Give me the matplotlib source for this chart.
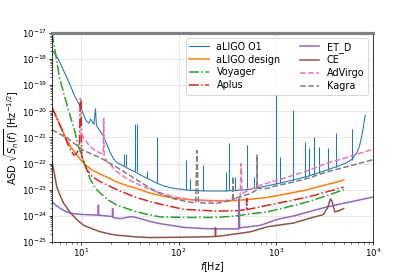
import numpy as np
import matplotlib
matplotlib.use("Agg")
from matplotlib import pyplot

# values are log10 of the ASD in Hz^-1/2
o1_f = [5, 5.5, 6, 6.5, 7, 7.5, 8, 8.5, 9, 9.5, 10, 10.5, 11, 11.5, 12, 12.5, 13,
        13.5, 14, 14.3, 14.6, 15.8, 17, 18.5, 20, 21, 23, 26, 30, 35, 40, 50, 60,
        70, 90, 130, 200, 300, 500, 700, 1000, 1540, 2200, 3330, 4500, 5250, 6000,
        6800, 7300, 7800, 8300]
o1_asd = [-17.65, -17.85, -18.1, -18.4, -18.65, -18.9, -19.15, -19.4, -19.55, -19.75,
          -19.9, -20.1, -20.3, -20.4, -20.45, -20.3, -20.4, -20.5, -19.9, -20.5, -20.6,
          -20.78, -20.97, -21.3, -21.6, -21.75, -21.95, -22.05, -22.18, -22.3, -22.42,
          -22.6, -22.75, -22.85, -22.95, -23.02, -23.05, -23.05, -23.0, -22.9, -22.78,
          -22.62, -22.47, -22.25, -22.08, -21.98, -21.85, -21.6, -21.3, -20.8, -20.15]
# narrow lines in the O1 spectrum: frequency, foot, tip
o1_line_f = [27.5, 28.5, 36, 37, 37.5, 47, 60, 120, 130, 180, 305, 330, 380, 505, 600,
             1000, 1100, 1500, 2000, 2200, 2450, 2800, 3450, 4200, 6100]
o1_line_lo = [-22.1, -22.1, -22.3, -22.3, -22.3, -22.55, -22.75, -23.0, -23.0, -23.05,
              -23.05, -23.0, -23.0, -22.95, -22.9, -22.78, -22.75, -22.65, -22.55,
              -22.47, -22.42, -22.36, -22.24, -22.12, -21.85]
o1_line_hi = [-21.65, -21.65, -20.5, -20.5, -20.6, -22.3, -20.97, -21.87, -22.6, -22.06,
              -22.31, -21.23, -22.5, -21.29, -22.5, -19.3, -21.74, -19.95, -21.16, -21.4,
              -21.0, -21.35, -21.4, -20.83, -20.68]

design_f = [5, 6, 7, 8, 9, 10, 11, 13, 16, 20, 23, 30, 35, 50, 65, 90, 120, 170, 250,
            350, 500, 800, 1200, 2000, 3000, 4000, 5000]
design_asd = [-19.85, -20.5, -21.05, -21.42, -21.66, -21.88, -22.05, -22.25, -22.42, -22.58,
              -22.7, -22.85, -22.92, -23.12, -23.22, -23.32, -23.37, -23.4, -23.42, -23.42,
              -23.38, -23.3, -23.18, -23.02, -22.85, -22.73, -22.63]

voyager_f = [5, 5.5, 6, 6.6, 7.2, 7.8, 8.5, 9.1, 10, 10.6, 11.5, 12.4, 14, 15.8, 19,
             23.4, 35, 51.5, 65, 113, 250, 400, 550, 815, 1200, 2200, 3500, 5000]
voyager_asd = [-17.0, -17.9, -18.75, -19.3, -19.8, -20.25, -20.7, -21.2, -21.65, -21.95,
               -22.3, -22.6, -22.95, -23.14, -23.4, -23.59, -23.82, -23.97, -24.04, -24.06,
               -24.06, -24.0, -23.92, -23.85, -23.7, -23.45, -23.2, -23.0]

aplus_f = [5, 6, 7, 7.5, 8, 8.4, 8.8, 9.3, 9.6, 9.75, 9.95, 10.1, 10.6, 11.5, 13, 15.8,
           23.4, 35, 51.5, 65, 113, 250, 400, 500, 503, 507, 815, 2200, 5000]
aplus_asd = [-19.85, -20.5, -21.1, -21.37, -21.56, -21.67, -21.65, -21.5, -21.35, -19.5,
             -19.5, -21.7, -21.9, -22.25, -22.5, -22.7, -23.0, -23.27, -23.46, -23.55,
             -23.75, -23.82, -23.8, -23.76, -23.33, -23.76, -23.6, -23.27, -22.9]

etd_f = [5, 5.5, 6.1, 7, 7.8, 9, 10.6, 14.9, 15, 15.1, 20.9, 21, 21.1, 24, 26.4, 30, 33.4,
         40, 51.5, 65, 113, 168, 250, 415, 420, 425, 700, 1000, 1540, 3330, 10000]
etd_asd = [-23.46, -23.6, -23.72, -23.84, -23.9, -23.93, -23.95, -23.97, -23.59, -23.97,
           -24.03, -23.72, -24.06, -24.1, -24.1, -24.05, -24.03, -24.1, -24.22, -24.3,
           -24.44, -24.48, -24.5, -24.5, -23.35, -24.46, -24.36, -24.15, -24.0, -23.66,
           -23.28]

ce_f = [5, 5.3, 5.6, 6.1, 6.6, 7.2, 7.8, 9.1, 10.6, 13, 15.8, 20, 23.4, 35, 50, 100, 200,
        238, 240, 242, 300, 550, 815, 1540, 2200, 3080, 3400, 3650, 3800, 4050, 4500, 5000]
ce_asd = [-21.93, -22.4, -22.89, -23.25, -23.52, -23.72, -23.9, -24.16, -24.36, -24.5,
          -24.61, -24.7, -24.74, -24.8, -24.83, -24.82, -24.8, -24.79, -24.45, -24.79,
          -24.75, -24.61, -24.42, -24.27, -24.1, -23.95, -23.7, -23.35, -23.45, -23.85,
          -23.8, -23.72]

virgo_f = [10, 11, 12.4, 14, 15.8, 16.8, 17, 17.2, 18.5, 20, 23, 27.4, 33, 40, 50, 60,
           90, 133, 230, 300, 430, 440, 450, 550, 700, 1000, 1540, 2200, 3330, 5000, 10000]
virgo_asd = [-20.85, -21.1, -21.36, -21.5, -21.6, -21.62, -20.27, -21.7, -21.93, -22.05,
             -22.3, -22.5, -22.68, -22.82, -22.97, -23.08, -23.27, -23.38, -23.45, -23.42,
             -23.3, -22.0, -23.15, -22.98, -22.82, -22.65, -22.44, -22.25, -21.99, -21.8,
             -21.45]

kagra_f = [5, 7.2, 10.6, 15.8, 23.4, 34.7, 51.5, 65, 90, 133, 150, 155, 160, 250, 360,
           362, 365, 550, 640, 642, 645, 815, 1000, 1540, 2200, 3330, 5000, 10000]
kagra_asd = [-20.7, -21.03, -21.5, -21.78, -22.15, -22.55, -22.95, -23.15, -23.35, -23.48,
             -23.5, -21.5, -23.5, -23.52, -23.4, -22.5, -23.35, -23.14, -23.0, -21.67,
             -22.95, -22.95, -22.85, -22.7, -22.55, -22.32, -22.15, -21.85]


def asd(v):
    return 10.0 ** np.array(v)


pyplot.rcParams['font.size'] = 10
pyplot.rcParams['xtick.labelsize'] = 9
pyplot.rcParams['ytick.labelsize'] = 9
pyplot.rcParams['xtick.major.size'] = 3
pyplot.rcParams['ytick.major.size'] = 3
pyplot.rcParams['xtick.minor.size'] = 2
pyplot.rcParams['ytick.minor.size'] = 2
pyplot.rcParams['xtick.major.pad'] = 2
pyplot.rcParams['ytick.major.pad'] = 2

dpi = 69.25
fig = pyplot.figure(figsize=(415 / dpi, 277 / dpi), dpi=dpi)
fig.subplots_adjust(left=0.1253, right=0.8988, bottom=0.1264, top=0.8809)
ax = fig.add_subplot(111)

ax.loglog(o1_f, asd(o1_asd), color='C0', lw=1.1, label='aLIGO O1')
ax.vlines(o1_line_f, asd(o1_line_lo), asd(o1_line_hi), color='C0', lw=1.1)
ax.loglog(design_f, asd(design_asd), color='C1', lw=1.6, label='aLIGO design')
ax.loglog(voyager_f, asd(voyager_asd), color='C2', lw=1.6, ls='-.', label='Voyager')
ax.loglog(aplus_f, asd(aplus_asd), color='C3', lw=1.6, ls='-.', label='Aplus')
ax.loglog(etd_f, asd(etd_asd), color='C4', lw=1.6, label='ET_D')
ax.loglog(ce_f, asd(ce_asd), color='C5', lw=1.6, label='CE')
ax.loglog(virgo_f, asd(virgo_asd), color='C6', lw=1.6, ls='--', label='AdVirgo')
ax.loglog(kagra_f, asd(kagra_asd), color='C7', lw=1.6, ls='--', label='Kagra')

ax.set_xlim(5, 1e4)
ax.set_ylim(1e-25, 1e-17)
ax.set_yticks([10.0 ** k for k in range(-25, -16)])
ax.grid(which='major', color='#b0b0b0', alpha=0.35, lw=0.8)
ax.spines['top'].set_color('0.5')
ax.spines['top'].set_linewidth(3.3)

ax.set_xlabel(r'$f$[Hz]', labelpad=1)
ax.set_ylabel(r'ASD $\sqrt{S_n(f)}$ [Hz$^{-1/2}$]', labelpad=1)
ax.legend(ncol=2, loc='upper right', labelspacing=0.3)

fig.savefig('out.png', dpi=dpi)
